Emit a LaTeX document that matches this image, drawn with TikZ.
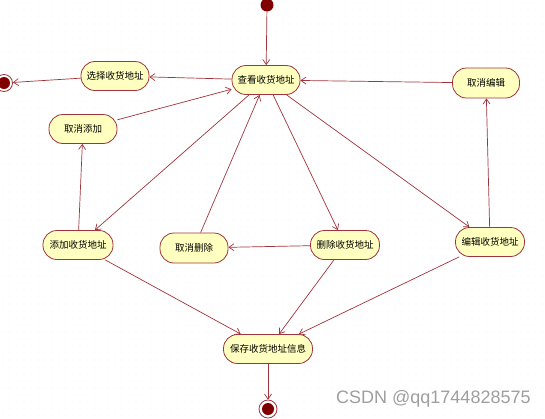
\documentclass[tikz,border=0pt]{standalone}
\usepackage{fontspec}
\newfontfamily\cjk{Noto Sans CJK SC}
\newfontfamily\wmfont{Liberation Sans}
\usetikzlibrary{arrows.meta}
\definecolor{umlline}{HTML}{A0343C}
\definecolor{umlfill}{HTML}{FFFFC0}
\definecolor{umldot}{HTML}{800000}
\tikzset{
  statebox/.style={draw=umlline, fill=umlfill, line width=0.8pt, rounded corners=14pt,
    minimum height=29pt, inner sep=2pt, font=\cjk\fontsize{9.5}{11}\selectfont, text=black},
  conn/.style={draw=umlline, line width=0.7pt, -{Straight Barb[length=5pt,width=7pt,line width=0.7pt]}},
}
\begin{document}
\begin{tikzpicture}[x=1pt,y=-1pt]
\useasboundingbox (0,0) rectangle (545,418);
\fill[white] (0,0) rectangle (545,418);
% dotted grid
\foreach \i in {0,...,77}{
  \foreach \j in {0,...,59}{
    \fill[gray!22] (3+7*\i,3+7*\j) circle (0.45);
  }
}
% states
\node[statebox, minimum width=68pt] (view) at (266,80) {查看收货地址};
\node[statebox, minimum width=68pt] (select) at (115,76) {选择收货地址};
\node[statebox, minimum width=68pt] (canceladd) at (83,129) {取消添加};
\node[statebox, minimum width=67pt, minimum height=30pt] (canceledit) at (486,83) {取消编辑};
\node[statebox, minimum width=70pt] (add) at (78,245) {添加收货地址};
\node[statebox, minimum width=68pt, minimum height=30pt] (canceldel) at (194,248) {取消删除};
\node[statebox, minimum width=69pt] (del) at (345,245) {删除收货地址};
\node[statebox, minimum width=69pt] (edit) at (490,242) {编辑收货地址};
\node[statebox, minimum width=89pt] (save) at (268,349) {保存收货地址信息};
% initial and final
\node[circle, fill=umldot, minimum size=13pt, inner sep=0pt] (init) at (267,5) {};
\node[circle, draw=umlline, fill=white, line width=0.8pt, minimum size=17pt, inner sep=0pt] (finL) at (4,83) {};
\fill[umldot] (finL.center) circle (6);
\node[circle, draw=umlline, fill=white, line width=0.8pt, minimum size=18pt, inner sep=0pt] (finB) at (268,409) {};
\fill[umldot] (finB.center) circle (6);
% connectors
\draw[conn] (init) -- (view);
\draw[conn] (view) -- (select);
\draw[conn] (select) -- (finL);
\draw[conn] (canceladd) -- (view);
\draw[conn] (canceledit) -- (view);
\draw[conn] (view) -- (add);
\draw[conn] (canceldel) -- (view);
\draw[conn] (view) -- (del);
\draw[conn] (view) -- (edit);
\draw[conn] (edit) -- (canceledit);
\draw[conn] (add) -- (canceladd);
\draw[conn] (del) -- (canceldel);
\draw[conn] (add) -- (save);
\draw[conn] (del) -- (save);
\draw[conn] (edit) -- (save);
\draw[conn] (save) -- (finB);
% watermark
\node[anchor=west, text=gray!75, font=\wmfont\fontsize{18}{20}\selectfont, inner sep=0pt] (wm) at (336,399) {CSDN @qq1744828575};
\end{tikzpicture}
\end{document}
